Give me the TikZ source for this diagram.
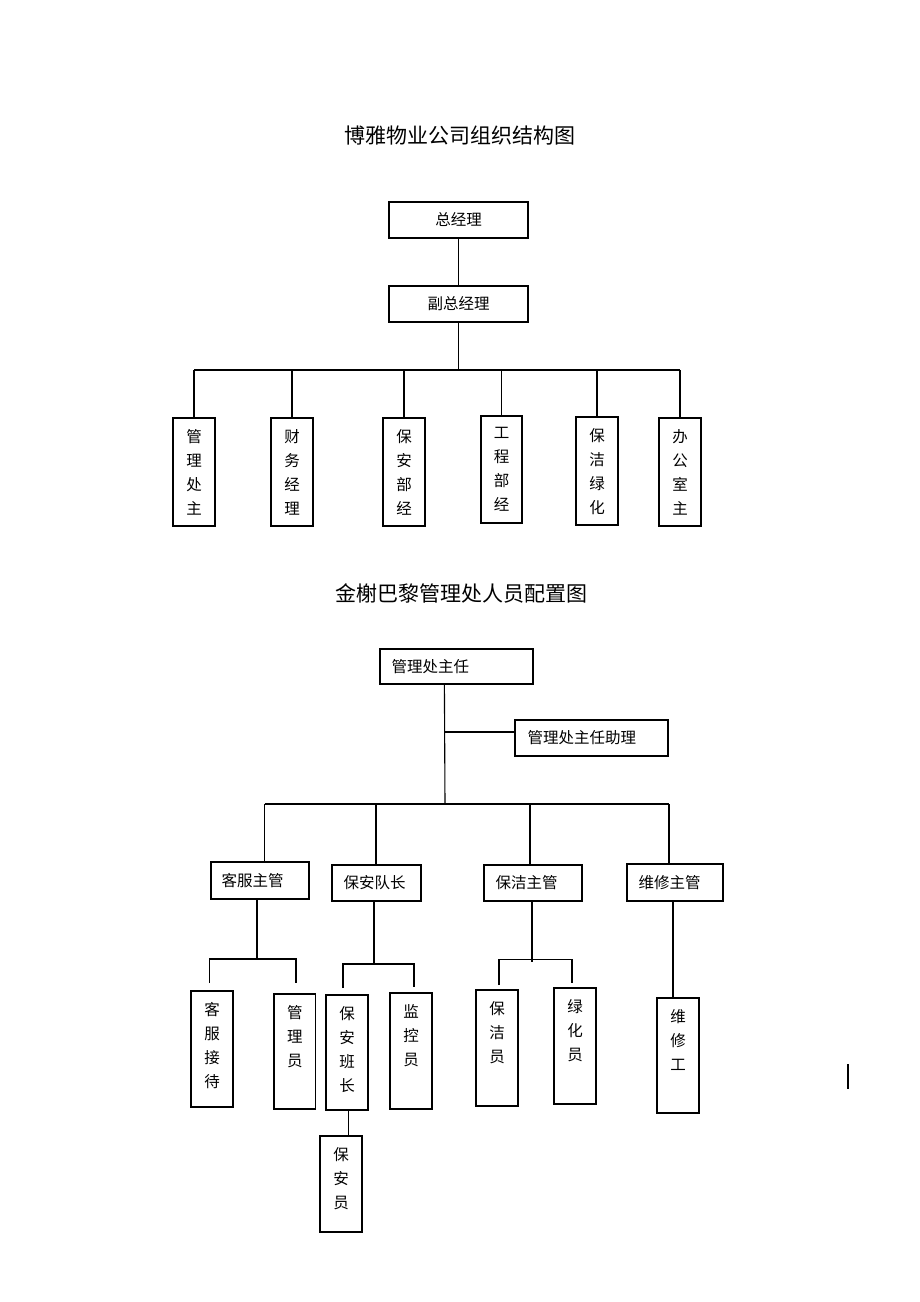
\documentclass[tikz,border=0pt]{standalone}
\usepackage{fontspec}
\newfontfamily\cjk{Noto Sans CJK SC}
\tikzset{
  bx/.style={draw, line width=1.2pt, inner sep=0pt},
  ln/.style={line width=1.1pt},
  ht/.style={font=\cjk\fontsize{15.5}{18}\selectfont, inner sep=0pt},
  vt/.style={font=\cjk\fontsize{15.5}{24}\selectfont, inner sep=0pt, align=center, anchor=north},
  ttl/.style={font=\cjk\fontsize{21}{24}\selectfont, inner sep=0pt}
}
\newcommand\mybox[5]{\node[bx, minimum width={#4-#2}, minimum height={#5-#3}] (#1) at ({(#2+#4)/2},{(#3+#5)/2}) {};}
\newcommand\vtext[2]{\node[vt] (#1-t) at ([yshift=-12pt]#1.north) {#2};}
\newcommand\ctext[2]{\node[ht] (#1-t) at (#1.center) {#2};}
\newcommand\ltext[3]{\node[ht, anchor=west] (#1-t) at ([xshift=#2pt]#1.west) {#3};}
\begin{document}
\begin{tikzpicture}[x=1pt,y=-1pt]
\fill[white] (0,0) rectangle (920,1302);
\useasboundingbox (0,0) rectangle (920,1302);

% ---------- chart 1 ----------
\node[ttl] (title1) at (460,136) {博雅物业公司组织结构图};
\mybox{zjl}{389}{202}{528}{238}\ctext{zjl}{总经理}
\mybox{fzjl}{389}{286}{528}{322}\ctext{fzjl}{副总经理}
\mybox{v1}{173}{418}{215}{526}\vtext{v1}{管\\理\\处\\主}
\mybox{v2}{271}{418}{313}{526}\vtext{v2}{财\\务\\经\\理}
\mybox{v3}{383}{418}{425}{526}\vtext{v3}{保\\安\\部\\经}
\mybox{v4}{481}{416}{522}{523}\vtext{v4}{工\\程\\部\\经}
\mybox{v5}{576}{417}{618}{525}\vtext{v5}{保\\洁\\绿\\化}
\mybox{v6}{659}{418}{701}{526}\vtext{v6}{办\\公\\室\\主}
\coordinate (bus1) at (458.5,370);
\draw[ln] (zjl.south) -- (fzjl.north);
\draw[ln] (fzjl.south) -- (bus1);
\draw[ln] (v1.north |- bus1) -- (v6.north |- bus1);
\foreach \n in {v1,v2,v3,v4,v5,v6}{\draw[ln] (\n.north |- bus1) -- (\n.north);}

% ---------- chart 2 ----------
\node[ttl] (title2) at (461,593) {金榭巴黎管理处人员配置图};
\mybox{zr}{380}{649}{533}{684}\ltext{zr}{12}{管理处主任}
\mybox{zl}{515}{720}{668}{756}\ltext{zl}{13}{管理处主任助理}
\mybox{kf}{211}{862}{309}{899}\ltext{kf}{11}{客服主管}
\mybox{ba}{332}{865}{421}{901}\ltext{ba}{12}{保安队长}
\mybox{bj}{484}{865}{582}{901}\ltext{bj}{12}{保洁主管}
\mybox{wx}{627}{864}{723}{901}\ltext{wx}{12}{维修主管}

\coordinate (bus2) at (445,804);
\coordinate (bkf) at (264.5,804);
\coordinate (bba) at (376,804);
\coordinate (bbj) at (530,804);
\coordinate (bwx) at (669,804);
\draw[ln] ([xshift=65pt]zr.south west) -- (bus2);
\draw[ln] ([yshift=6pt]zl.west) -- ([yshift=6pt]zl.west -| bus2);
\draw[ln] (bkf) -- (bwx);
\draw[ln] (bkf) -- (bkf |- kf.north);
\draw[ln] (bba) -- (bba |- ba.north);
\draw[ln] (bbj) -- (bbj |- bj.north);
\draw[ln] (bwx) -- (bwx |- wx.north);

% leaves
\mybox{kfjd}{191}{991}{233}{1107}\vtext{kfjd}{客\\服\\接\\待}
\mybox{gly}{274}{994}{315.5}{1109}\vtext{gly}{管\\理\\员}
\mybox{babz}{326}{995}{368}{1110}\vtext{babz}{保\\安\\班\\长}
\mybox{jky}{390}{993}{432}{1109}\vtext{jky}{监\\控\\员}
\mybox{bay}{320}{1136}{362}{1232}\vtext{bay}{保\\安\\员}
\mybox{bjy}{476}{990}{518}{1106}\vtext{bjy}{保\\洁\\员}
\mybox{lhy}{554}{988}{596}{1104}\vtext{lhy}{绿\\化\\员}
\mybox{wxg}{657}{998}{699}{1113}\vtext{wxg}{维\\修\\工}

% 客服 branch
\coordinate (kfm) at (257,959);
\coordinate (kfl) at (209.7,959);
\coordinate (kfr) at (296,959);
\coordinate (kfle) at (209.7,983);
\coordinate (kfre) at (296,983);
\draw[ln] (kf.south -| kfm) -- (kfm);
\draw[ln] (kfle) -- (kfl) -- (kfr) -- (kfre);

% 保安 branch
\coordinate (bam) at (374,964);
\coordinate (bal) at (343,964);
\coordinate (bar) at (414,964);
\coordinate (bale) at (343,988);
\coordinate (bare) at (414,987);
\draw[ln] (ba.south -| bam) -- (bam);
\draw[ln] (bale) -- (bal) -- (bar) -- (bare);
\draw[ln] ([xshift=1.5pt]babz.south) -- ([xshift=7.5pt]bay.north);

% 保洁 branch
\coordinate (bjm) at (532,962);
\coordinate (bjl) at (499,959.5);
\coordinate (bjr) at (572,959.5);
\coordinate (bjle) at (499,985);
\coordinate (bjre) at (572,983);
\draw[ln] (bj.south -| bjm) -- (bjm);
\draw[ln] (bjle) -- (bjl) -- (bjr) -- (bjre);

% 维修 branch
\draw[ln] ([xshift=-2pt]wx.south) -- ([xshift=-5pt]wxg.north);

% stray mark
\coordinate (s1) at (848,1064);
\coordinate (s2) at (848,1089);
\draw[ln] (s1) -- (s2);
\end{tikzpicture}
\end{document}
